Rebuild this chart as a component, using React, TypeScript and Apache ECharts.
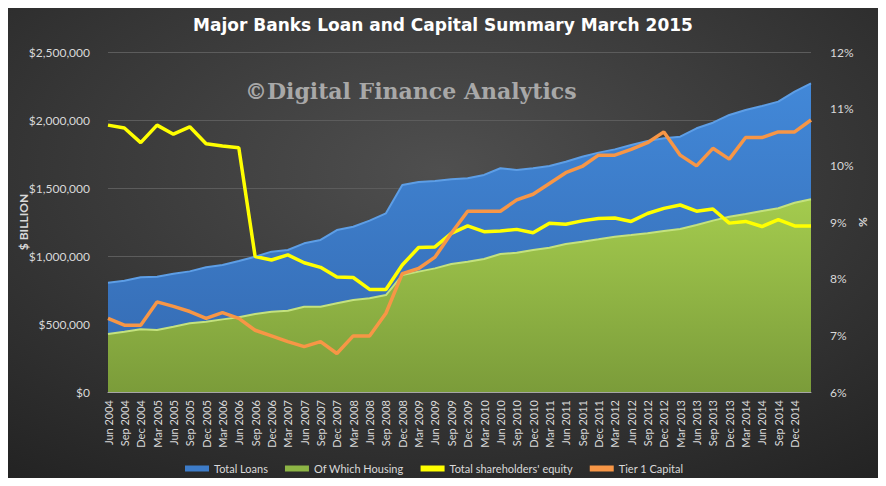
import React, { useEffect, useRef } from "react";
import * as echarts from "echarts";

const categories = [
  "Jun 2004", "Sep 2004", "Dec 2004",
  "Mar 2005", "Jun 2005", "Sep 2005", "Dec 2005",
  "Mar 2006", "Jun 2006", "Sep 2006", "Dec 2006",
  "Mar 2007", "Jun 2007", "Sep 2007", "Dec 2007",
  "Mar 2008", "Jun 2008", "Sep 2008", "Dec 2008",
  "Mar 2009", "Jun 2009", "Sep 2009", "Dec 2009",
  "Mar 2010", "Jun 2010", "Sep 2010", "Dec 2010",
  "Mar 2011", "Jun 2011", "Sep 2011", "Dec 2011",
  "Mar 2012", "Jun 2012", "Sep 2012", "Dec 2012",
  "Mar 2013", "Jun 2013", "Sep 2013", "Dec 2013",
  "Mar 2014", "Jun 2014", "Sep 2014", "Dec 2014",
  "Mar 2015",
];

const totalLoans = [
  803000, 818000, 843000, 848000, 870000, 887000, 917000, 934000, 963000, 995000,
  1032000, 1044000, 1093000, 1118000, 1191000, 1215000, 1260000, 1314000, 1522000, 1544000,
  1551000, 1564000, 1571000, 1596000, 1645000, 1632000, 1645000, 1662000, 1693000, 1730000,
  1760000, 1784000, 1816000, 1846000, 1865000, 1877000, 1939000, 1980000, 2037000, 2074000,
  2103000, 2135000, 2208000, 2270000,
];

const housing = [
  426000, 443000, 461000, 456000, 480000, 505000, 517000, 534000, 549000, 574000,
  590000, 598000, 627000, 627000, 652000, 676000, 689000, 713000, 860000, 885000,
  909000, 941000, 958000, 978000, 1015000, 1024000, 1044000, 1061000, 1088000, 1105000,
  1123000, 1142000, 1154000, 1167000, 1184000, 1199000, 1228000, 1260000, 1289000, 1309000,
  1331000, 1351000, 1392000, 1417000,
];

const equity = [
  10.71, 10.66, 10.4, 10.71, 10.55, 10.68, 10.38, 10.34, 10.31, 8.39,
  8.33, 8.42, 8.28, 8.2, 8.03, 8.02, 7.81, 7.81, 8.24, 8.55,
  8.56, 8.8, 8.93, 8.83, 8.84, 8.87, 8.81, 8.98, 8.96, 9.02,
  9.06, 9.07, 9.01, 9.15, 9.24, 9.3, 9.19, 9.23, 8.98, 9.01,
  8.92, 9.04, 8.93, 8.93,
];

const tier1 = [
  7.3, 7.18, 7.18, 7.59, 7.51, 7.42, 7.3, 7.4, 7.3, 7.09,
  6.99, 6.89, 6.8, 6.89, 6.68, 6.99, 6.99, 7.39, 8.09, 8.18,
  8.38, 8.8, 9.19, 9.19, 9.19, 9.39, 9.49, 9.68, 9.87, 9.98,
  10.18, 10.18, 10.28, 10.4, 10.59, 10.18, 9.99, 10.3, 10.11, 10.49,
  10.49, 10.59, 10.59, 10.8,
];

const leftTicks = { min: 0, max: 2500000, interval: 500000 };
const rightTicks = { min: 6, max: 12, interval: 1 };

const FONT = "Lato";
const LABEL = "#d9d9d9";

export default function App() {
  const ref = useRef<HTMLDivElement>(null);
  useEffect(() => {
    if (!ref.current) return;
    const chart = echarts.init(ref.current, null, { renderer: "svg" });
    chart.setOption({
      animation: false,
      backgroundColor: {
        type: "radial",
        x: 0.5,
        y: 0.35,
        r: 0.8,
        colorStops: [
          { offset: 0, color: "#4f4f4f" },
          { offset: 1, color: "#232323" },
        ],
      },
      title: {
        text: "Major Banks Loan and Capital Summary March 2015",
        left: "center",
        top: 11,
        textStyle: {
          color: "#ffffff",
          fontFamily: "DejaVu Sans",
          fontWeight: "bold",
          fontSize: 17,
        },
      },
      graphic: [
        {
          type: "text",
          left: 245,
          top: 80,
          style: {
            text: "©Digital Finance Analytics",
            fill: "#a8a8a8",
            font: "bold 22px 'DejaVu Serif'",
          },
          z: 0,
        },
      ],
      legend: {
        top: 458,
        left: 180,
        itemWidth: 24,
        itemHeight: 6,
        itemGap: 17,
        textStyle: { color: LABEL, fontFamily: FONT, fontSize: 11 },
        data: [
          { name: "Total Loans", icon: "rect" },
          { name: "Of Which Housing", icon: "rect" },
          { name: "Total shareholders' equity", icon: "rect" },
          { name: "Tier 1 Capital", icon: "rect" },
        ],
      },
      grid: { left: 108, right: 75, top: 52, bottom: 94 },
      xAxis: {
        type: "category",
        boundaryGap: false,
        data: categories,
        axisLine: { lineStyle: { color: "#a6a6a6", width: 1 } },
        axisTick: { show: false },
        axisLabel: {
          rotate: 90,
          color: LABEL,
          fontFamily: FONT,
          fontSize: 11,
          margin: 8,
          interval: (index: number) => index < categories.length - 1,
        },
      },
      yAxis: [
        {
          type: "value",
          ...leftTicks,
          name: "$ BILLION",
          nameLocation: "middle",
          nameRotate: 90,
          nameGap: 79,
          nameMoveOverlap: false,
          nameTextStyle: { color: LABEL, fontFamily: FONT, fontWeight: "bold", fontSize: 12 },
          axisLine: { show: false },
          axisTick: { show: false },
          splitLine: { lineStyle: { color: "#5c5c5c", width: 1 } },
          axisLabel: {
            color: LABEL,
            fontFamily: FONT,
            fontSize: 12,
            margin: 18,
            formatter: (v: number) => "$" + v.toLocaleString("en-US"),
          },
        },
        {
          type: "value",
          ...rightTicks,
          name: "%",
          nameLocation: "middle",
          nameRotate: 90,
          nameGap: 45,
          nameMoveOverlap: false,
          nameTextStyle: { color: LABEL, fontFamily: FONT, fontWeight: "bold", fontSize: 12 },
          axisLine: { show: false },
          axisTick: { show: false },
          splitLine: { show: false },
          axisLabel: {
            color: LABEL,
            fontFamily: FONT,
            fontSize: 12,
            margin: 19,
            formatter: (v: number) => v + "%",
          },
        },
      ],
      series: [
        {
          name: "Total Loans",
          type: "line",
          data: totalLoans,
          yAxisIndex: 0,
          symbol: "none",
          color: "#3d7cc9",
          lineStyle: { color: "#5d9ee6", width: 2 },
          areaStyle: {
            opacity: 1,
            color: {
              type: "linear", x: 0, y: 0, x2: 0, y2: 1,
              colorStops: [
                { offset: 0, color: "#4288d8" },
                { offset: 1, color: "#3469b0" },
              ],
            },
          },
          z: 1,
        },
        {
          name: "Of Which Housing",
          type: "line",
          data: housing,
          yAxisIndex: 0,
          symbol: "none",
          color: "#8db545",
          lineStyle: { color: "#c4e27e", width: 2 },
          areaStyle: {
            opacity: 1,
            color: {
              type: "linear", x: 0, y: 0, x2: 0, y2: 1,
              colorStops: [
                { offset: 0, color: "#a4cb4e" },
                { offset: 1, color: "#7b9c3a" },
              ],
            },
          },
          z: 2,
        },
        {
          name: "Total shareholders' equity",
          type: "line",
          data: equity,
          yAxisIndex: 1,
          symbol: "none",
          color: "#ffff00",
          lineStyle: { color: "#ffff00", width: 3.5 },
          z: 3,
        },
        {
          name: "Tier 1 Capital",
          type: "line",
          data: tier1,
          yAxisIndex: 1,
          symbol: "none",
          color: "#f79646",
          lineStyle: { color: "#f79646", width: 3.5 },
          z: 4,
        },
      ],
    });
    return () => chart.dispose();
  }, []);
  return <div ref={ref} style={{ width: 886, height: 486, margin: -8 }} />;
}
